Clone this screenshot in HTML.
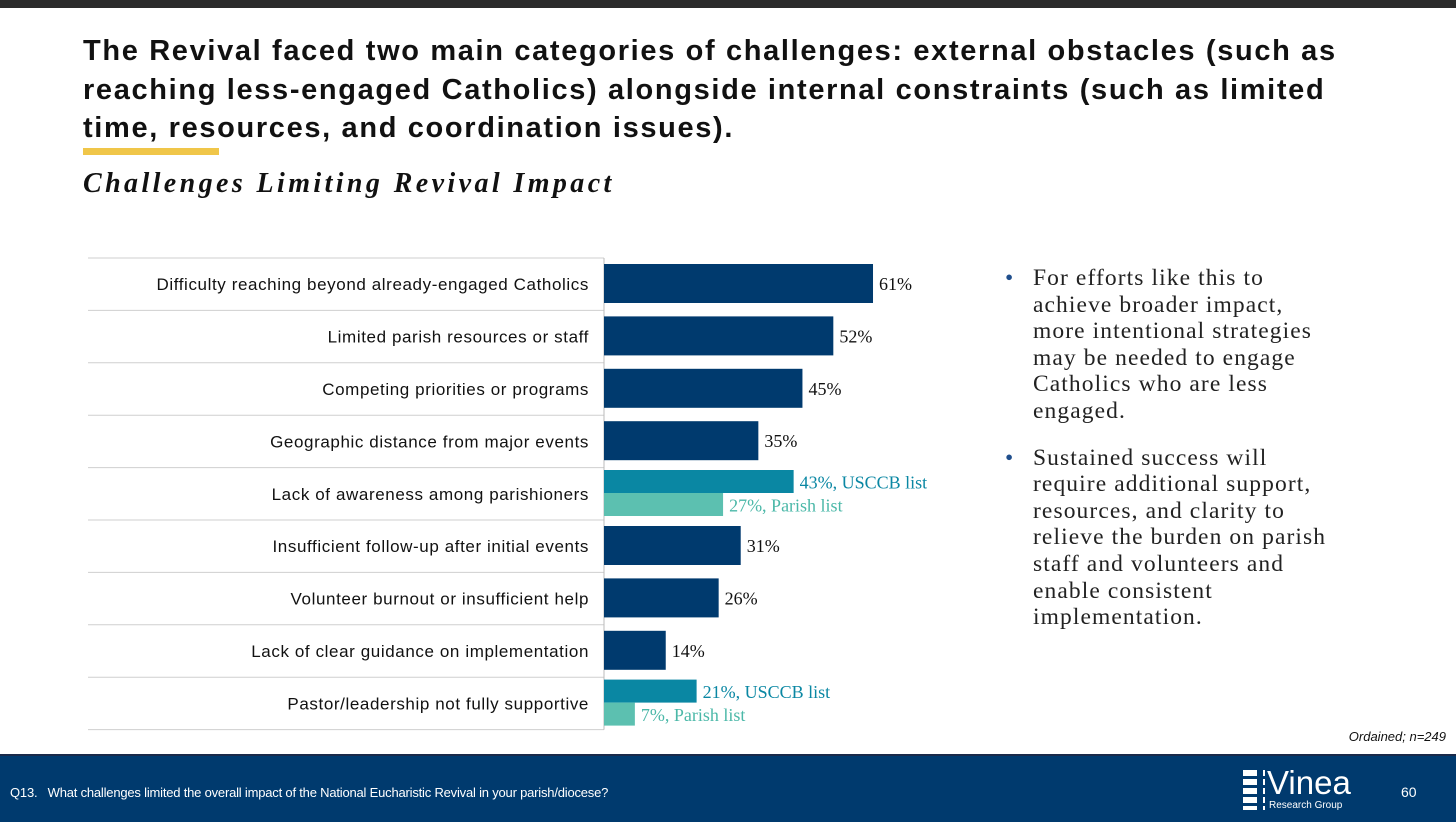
<!DOCTYPE html>
<html><head><meta charset="utf-8"><style>
body{margin:0;width:1456px;height:820px;overflow:hidden;background:#fff;font-family:"Liberation Sans",sans-serif;position:relative}
.abs{position:absolute}
</style></head><body>
<div class="abs" style="left:0;top:0;width:1456px;height:8px;background:#2b2b2b"></div>
<div class="abs" style="left:83px;top:32px;width:1360px;font-size:29px;font-weight:bold;line-height:38.5px;color:#111;white-space:nowrap;letter-spacing:1.65px">The Revival faced two main categories of challenges: external obstacles (such as<br>reaching less-engaged Catholics) alongside internal constraints (such as limited<br>time, resources, and coordination issues).</div>
<div class="abs" style="left:83px;top:148px;width:136px;height:7px;background:#f0c649"></div>
<div class="abs" style="left:83px;top:168px;font-family:'Liberation Serif',serif;font-style:italic;font-weight:bold;font-size:28px;letter-spacing:3.4px;color:#111">Challenges Limiting Revival Impact</div>
<svg class="abs" style="left:0;top:0" width="1456" height="820" id="chart"></svg>
<div class="abs" style="left:1005px;top:265px;width:440px;font-family:'Liberation Serif',serif;font-size:23.5px;line-height:26.6px;color:#222;white-space:nowrap;letter-spacing:1.1px">
<div style="position:relative;padding-left:28px;margin-bottom:20px"><span style="position:absolute;left:0;color:#1f4e8c">•</span>For efforts like this to<br>achieve broader impact,<br>more intentional strategies<br>may be needed to engage<br>Catholics who are less<br>engaged.</div>
<div style="position:relative;padding-left:28px"><span style="position:absolute;left:0;color:#1f4e8c">•</span>Sustained success will<br>require additional support,<br>resources, and clarity to<br>relieve the burden on parish<br>staff and volunteers and<br>enable consistent<br>implementation.</div>
</div>
<div class="abs" style="right:10px;top:729px;font-size:13px;font-style:italic;color:#111">Ordained; n=249</div>
<div class="abs" style="left:0;top:754px;width:1456px;height:66px;background:#003a6e;border-top:2px solid #1a2a4a"></div>
<div class="abs" style="left:10px;top:785px;font-size:13px;color:#fff;letter-spacing:-0.2px">Q13.&nbsp;&nbsp;&nbsp;What challenges limited the overall impact of the National Eucharistic Revival in your parish/diocese?</div>
<div class="abs" style="left:1243px;top:770px;width:210px;height:45px;color:#fff">
<div style="position:absolute;left:0;top:0;width:14px;height:40px;background:repeating-linear-gradient(#fff 0 6px,#003a6e 6px 9px)"></div>
<div style="position:absolute;left:20px;top:0;width:2px;height:40px;background:repeating-linear-gradient(#fff 0 6px,#003a6e 6px 9px)"></div>
<div style="position:absolute;left:24px;top:-6px;font-size:33px">Vinea</div>
<div style="position:absolute;left:26px;top:30px;font-size:10px">Research Group</div>
<div style="position:absolute;left:158px;top:14px;font-size:14px">60</div>
</div>
<script>
const categories=["Difficulty reaching beyond already-engaged Catholics","Limited parish resources or staff","Competing priorities or programs","Geographic distance from major events","Lack of awareness among parishioners","Insufficient follow-up after initial events","Volunteer burnout or insufficient help","Lack of clear guidance on implementation","Pastor/leadership not fully supportive"];
const mainValues=[61,52,45,35,null,31,26,14,null];
const usccbValues=[null,null,null,null,43,null,null,null,21];
const parishValues=[null,null,null,null,27,null,null,null,7];
const svg=document.getElementById('chart');const NS='http://www.w3.org/2000/svg';
const x0=604,pxPer=4.41,top0=258,rowH=52.4;
const xs=v=>x0+v*pxPer;const ys=i=>top0+i*rowH;
function mk(t,a){const e=document.createElementNS(NS,t);for(const k in a)e.setAttribute(k,a[k]);svg.appendChild(e);return e;}
for(let i=0;i<=categories.length;i++){const l=mk('line',{x1:88,x2:x0,y1:ys(i),y2:ys(i),stroke:'#cfcfcf','stroke-width':1});

}
const ax=mk('line',{x1:x0,x2:x0,y1:ys(0),y2:ys(categories.length),stroke:'#bbb','stroke-width':1});


categories.forEach((c,i)=>{const t=mk('text',{x:589,y:ys(i)+rowH/2+6,'text-anchor':'end','font-size':17,'letter-spacing':'0.6',fill:'#111','font-family':'Liberation Sans, sans-serif'});t.textContent=c;


if(mainValues[i]!=null){const v=mainValues[i];const r=mk('rect',{x:x0,y:ys(i)+6,width:xs(v)-x0,height:39,fill:'#003a6e'});


const l=mk('text',{x:xs(v)+6,y:ys(i)+32,'font-size':18,fill:'#111','font-family':'Liberation Serif, serif'});l.textContent=v+'%';

}
if(usccbValues[i]!=null){const v=usccbValues[i];const r=mk('rect',{x:x0,y:ys(i)+2.4,width:xs(v)-x0,height:23,fill:'#0a87a3'});


const l=mk('text',{x:xs(v)+6,y:ys(i)+21,'font-size':18,fill:'#0a87a3','font-family':'Liberation Serif, serif'});l.textContent=v+'%, USCCB list';

}
if(parishValues[i]!=null){const v=parishValues[i];const r=mk('rect',{x:x0,y:ys(i)+25.4,width:xs(v)-x0,height:23,fill:'#5cc0b0'});


const l=mk('text',{x:xs(v)+6,y:ys(i)+44,'font-size':18,fill:'#4bb8a8','font-family':'Liberation Serif, serif'});l.textContent=v+'%, Parish list';

}
});
</script>
</body></html>
